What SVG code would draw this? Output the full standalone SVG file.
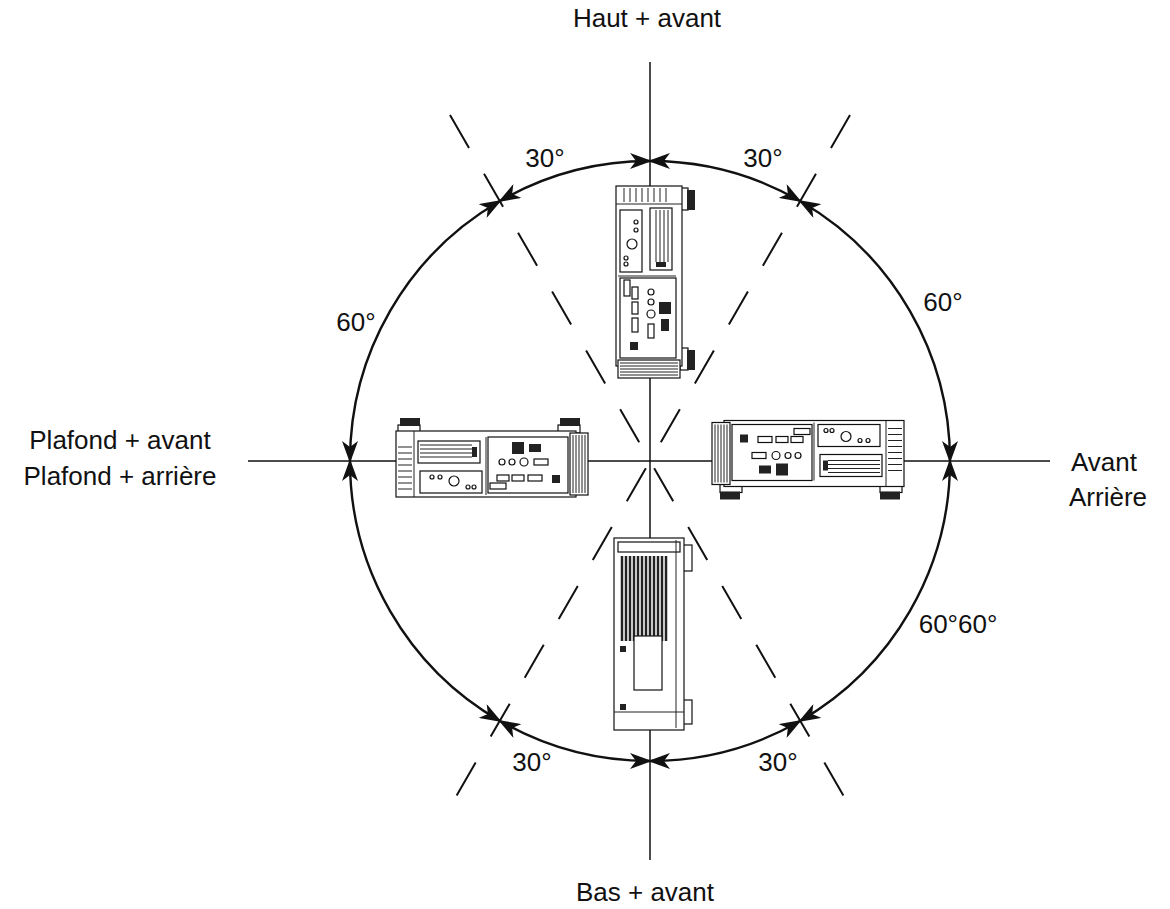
<svg xmlns="http://www.w3.org/2000/svg" width="1170" height="909" viewBox="0 0 1170 909">
<style>
text{font-family:"Liberation Sans",Arial,sans-serif;font-size:26px;fill:#111}
.ax{stroke:#111;stroke-width:1.5;fill:none}
.ds{stroke:#111;stroke-width:2;fill:none;stroke-dasharray:38,30}
.arc{stroke:#111;stroke-width:2.4;fill:none;marker-start:url(#ah);marker-end:url(#ah)}
.p{stroke:#111;stroke-width:1.2;fill:#fff}
.pd{fill:#222}
.pl{stroke:#222;stroke-width:1}
</style>
<defs>
<marker id="ah" markerWidth="22" markerHeight="16" refX="20" refY="8" orient="auto-start-reverse" markerUnits="userSpaceOnUse"><path d="M0,0 L22,8 L0,16 L6,8 Z" fill="#111"/></marker>
<g id="proj">
<rect class="p" x="6" y="8" width="22" height="8"/><rect class="pd" x="8" y="1" width="20" height="8"/>
<rect class="p" x="166" y="8" width="22" height="8"/><rect class="pd" x="168" y="1" width="20" height="8"/>
<rect class="p" x="4" y="14" width="180" height="66"/>
<rect class="p" x="178" y="16" width="18" height="62"/>
<path class="pl" d="M181,18v58M184,18v58M187,18v58M190,18v58M193,18v58"/>
<path class="pl" d="M6,30h14M6,36h14M6,42h14M6,48h14M6,54h14M6,60h14M6,66h14M6,72h14"/>
<line class="pl" x1="22" y1="14" x2="22" y2="80" stroke-width="2"/>
<rect class="p" x="26" y="24" width="62" height="22"/>
<path class="pl" d="M28,28h52M28,32h52M28,36h52M28,40h52"/>
<rect class="pd" x="80" y="30" width="5" height="10"/>
<rect class="p" x="28" y="54" width="62" height="22"/>
<circle class="p" cx="62" cy="64" r="5"/><circle class="p" cx="40" cy="60" r="2"/><circle class="p" cx="48" cy="60" r="2"/><circle class="p" cx="76" cy="70" r="2"/><circle class="p" cx="82" cy="70" r="2"/>
<line class="pl" x1="94" y1="20" x2="94" y2="78"/>
<rect class="p" x="96" y="20" width="80" height="56"/>
<rect class="pd" x="120" y="25" width="12" height="12"/><rect class="pd" x="137" y="27" width="12" height="8"/>
<circle class="p" cx="110" cy="45" r="3"/><circle class="p" cx="120" cy="45" r="3"/><circle class="p" cx="132" cy="45" r="4"/><rect class="p" x="142" y="42" width="14" height="6"/>
<rect class="p" x="105" y="58" width="12" height="6"/><rect class="p" x="120" y="58" width="12" height="6"/><rect class="p" x="136" y="58" width="14" height="6"/><rect class="pd" x="160" y="58" width="8" height="8"/>
<rect class="p" x="98" y="66" width="16" height="6"/>
</g>
</defs>
<g id="axes">
<line class="ax" x1="650" y1="62" x2="650" y2="860"/>
<line class="ax" x1="248" y1="461" x2="1050" y2="461"/>
<line class="ds" x1="450" y1="115" x2="850" y2="807"/>
<line class="ds" x1="850" y1="115" x2="450" y2="807"/>
</g>
<g id="proj-left"><use href="#proj" transform="translate(392,417)"/></g>
<g id="proj-top"><use href="#proj" transform="translate(654.5,280) rotate(90) translate(-98,-41.5)"/></g>
<g id="proj-right"><use href="#proj" transform="translate(810,459) rotate(180) translate(-98,-41.5)"/></g>
<g id="proj-bottom">
<rect class="p" x="682" y="545" width="10" height="26"/><rect class="p" x="682" y="700" width="10" height="24"/>
<rect class="p" x="614" y="538" width="70" height="192"/>
<rect class="p" x="618" y="542" width="62" height="10"/>
<g class="pl">
<path d="M622,556v85M626,556v85M630,556v85M634,556v85M638,556v85M642,556v85M646,556v85M650,556v85M654,556v85M658,556v85M662,556v85M666,556v85" stroke-width="2.5"/>
</g>
<rect class="p" x="634" y="636" width="28" height="54"/>
<line class="pl" x1="614" y1="712" x2="684" y2="712"/>
<rect class="pd" x="620" y="646" width="6" height="6"/><rect class="pd" x="620" y="704" width="6" height="6"/>
<line class="pl" x1="676" y1="540" x2="676" y2="728"/>
</g>
<g id="connectors">
<path class="arc" d="M650,161 A300,300 0 0 0 500,201"/>
<path class="arc" d="M650,161 A300,300 0 0 1 800,201"/>
<path class="arc" d="M500,201 A300,300 0 0 0 350,461"/>
<path class="arc" d="M800,201 A300,300 0 0 1 950,461"/>
<path class="arc" d="M350,461 A300,300 0 0 0 500,721"/>
<path class="arc" d="M950,461 A300,300 0 0 1 800,721"/>
<path class="arc" d="M500,721 A300,300 0 0 0 650,761"/>
<path class="arc" d="M800,721 A300,300 0 0 1 650,761"/>
</g>
<g id="labels">
<text x="647" y="27" text-anchor="middle">Haut + avant</text>
<text x="545" y="167" text-anchor="middle">30°</text>
<text x="763" y="167" text-anchor="middle">30°</text>
<text x="356" y="331" text-anchor="middle">60°</text>
<text x="943" y="311" text-anchor="middle">60°</text>
<text x="120" y="449" text-anchor="middle">Plafond + avant</text>
<text x="120" y="485" text-anchor="middle">Plafond + arrière</text>
<text x="1071" y="471">Avant</text>
<text x="1069" y="506">Arrière</text>
<text x="958" y="633" text-anchor="middle">60°60°</text>
<text x="532" y="771" text-anchor="middle">30°</text>
<text x="778" y="771" text-anchor="middle">30°</text>
<text x="645" y="901" text-anchor="middle">Bas + avant</text>
</g>
</svg>
